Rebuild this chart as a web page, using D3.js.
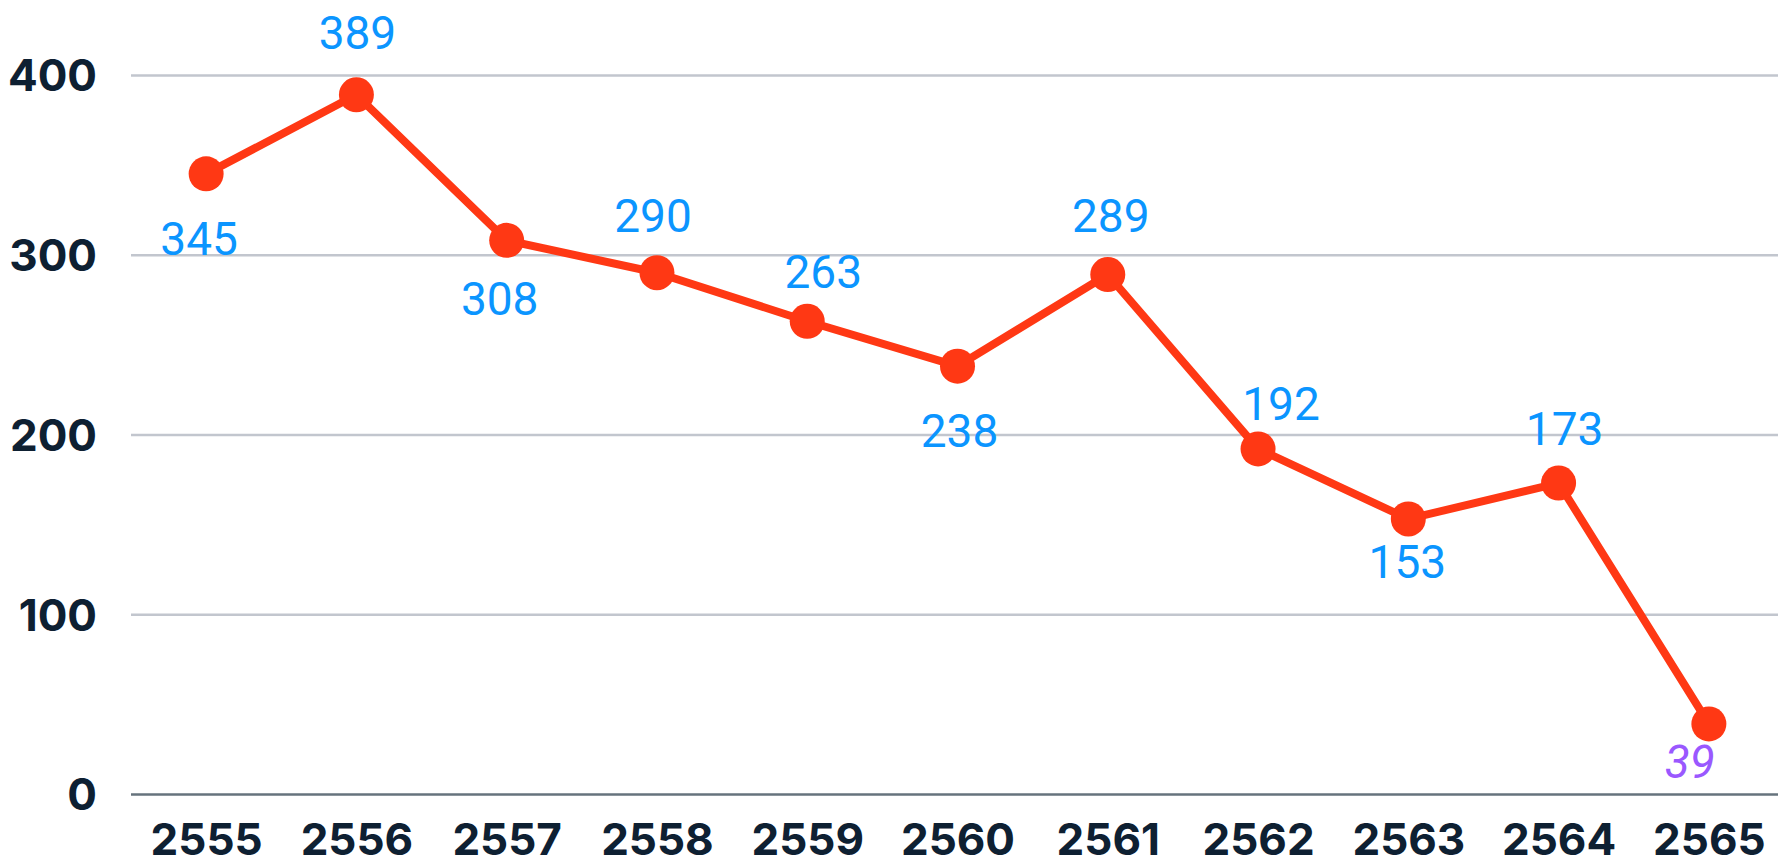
<!DOCTYPE html>
<html>
<head>
<meta charset="utf-8">
<script src="https://cdn.jsdelivr.net/npm/d3@7"></script>
<style>
  body { margin: 0; background: #fff; }
  svg { display: block; }
</style>
</head>
<body>
<div id="chart"></div>
<script>
var years = ["2555", "2556", "2557", "2558", "2559", "2560", "2561", "2562", "2563", "2564", "2565"];
var counts = [345, 389, 308, 290, 263, 238, 289, 192, 153, 173, 39];
var yTicks = [0, 100, 200, 300, 400];

// label nudges [dx, dy] relative to each point
var labelShift = [[-7, 81], [1, -46], [-7, 75], [-4, -41], [16, -33], [2, 81],
                  [3, -43], [23, -29], [-1, 59], [6, -38], [-19, 54]];

var svgWidth = 1778;
var svgHeight = 861;

var margin = { top: 75, right: 0, bottom: 67, left: 131 };
var height = svgHeight - margin.top - margin.bottom;

var svg = d3.select("#chart")
  .append("svg")
  .attr("width", svgWidth)
  .attr("height", svgHeight);

var x = d3.scalePoint()
  .domain(years)
  .range([margin.left, 1784])
  .padding(0.5);

var y = d3.scaleLinear()
  .domain([0, 400])
  .range([margin.top + height, margin.top]);

// gridlines + y tick labels
var leftAxis = d3.axisLeft(y)
  .tickValues(yTicks)
  .tickSizeInner(-(svgWidth - margin.left))
  .tickSizeOuter(0)
  .tickPadding(34);

var gy = svg.append("g")
  .attr("transform", `translate(${margin.left},0)`)
  .call(leftAxis);

gy.select(".domain").remove();
gy.selectAll(".tick line")
  .attr("stroke", d => d === 0 ? "#66737d" : "#c2c6ce")
  .attr("stroke-width", 2.5);
gy.selectAll(".tick text")
  .attr("fill", "#0e2032")
  .attr("font-family", "Inter, 'Open Sans', sans-serif")
  .attr("font-weight", "700")
  .attr("font-size", "44px")
  .attr("dy", "0.36em");

// x tick labels
var bottomAxis = d3.axisBottom(x)
  .tickSize(0)
  .tickPadding(30);

var gx = svg.append("g")
  .attr("transform", `translate(0,${margin.top + height})`)
  .call(bottomAxis);

gx.select(".domain").remove();
gx.selectAll(".tick text")
  .attr("fill", "#0e2032")
  .attr("font-family", "Inter, 'Open Sans', sans-serif")
  .attr("font-weight", "700")
  .attr("font-size", "44px");

// line
var line = d3.line()
  .x((d, i) => x(years[i]))
  .y(d => y(d));

svg.append("path")
  .datum(counts)
  .attr("fill", "none")
  .attr("stroke", "#ff3814")
  .attr("stroke-width", 8)
  .attr("stroke-linejoin", "round")
  .attr("d", line);

svg.append("g")
  .selectAll("circle")
  .data(counts)
  .enter()
  .append("circle")
  .attr("cx", (d, i) => x(years[i]))
  .attr("cy", d => y(d))
  .attr("r", 17.5)
  .attr("fill", "#ff3814");

// value labels
var last = counts.length - 1;
svg.append("g")
  .selectAll("text")
  .data(counts)
  .enter()
  .append("text")
  .attr("x", (d, i) => x(years[i]) + labelShift[i][0])
  .attr("y", (d, i) => y(d) + labelShift[i][1])
  .attr("text-anchor", "middle")
  .attr("font-family", "Roboto, sans-serif")
  .attr("font-size", "46px")
  .attr("font-style", (d, i) => i === last ? "italic" : "normal")
  .attr("fill", (d, i) => i === last ? "#9a58ff" : "#0b95ff")
  .text(d => d);
</script>
</body>
</html>
